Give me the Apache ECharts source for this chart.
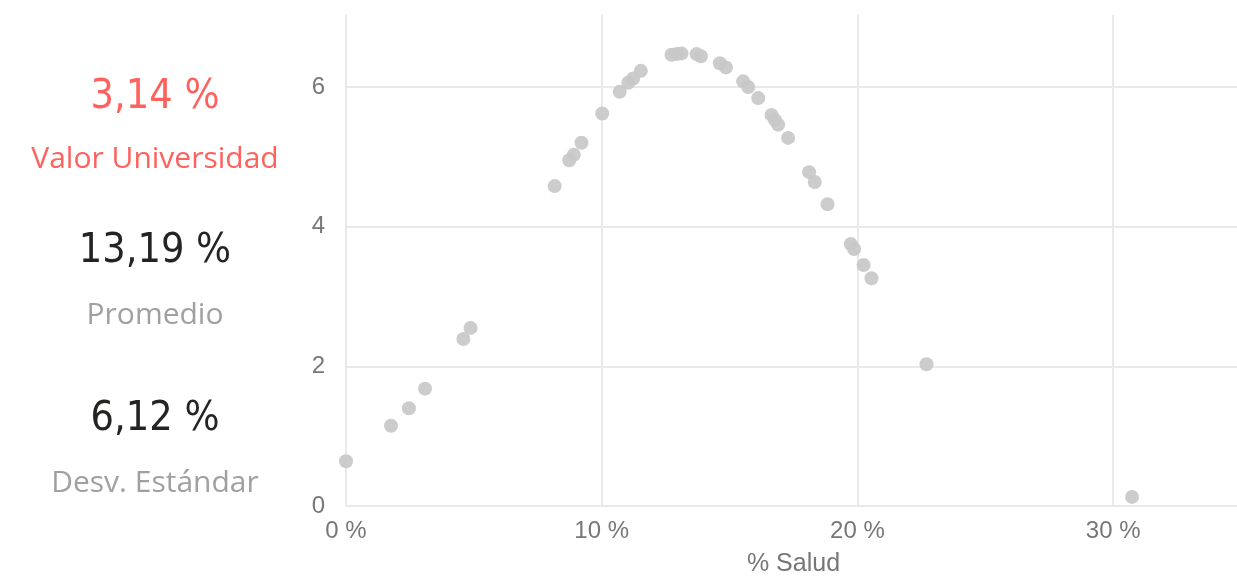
<!DOCTYPE html>
<html>
<head>
<meta charset="utf-8">
<script src="https://cdn.jsdelivr.net/npm/echarts@6/dist/echarts.min.js"></script>
<style>
html,body{margin:0;padding:0;background:#fff;overflow:hidden;}
#c{width:1237px;height:578px;}
</style>
</head>
<body>
<div id="c"></div>
<script>
// Data
const xValues = [0.0, 1.76, 2.46, 3.09, 4.59, 4.87, 8.16, 8.73, 8.91, 9.21, 10.02, 10.70, 11.04, 11.23, 11.53,
  12.73, 12.93, 13.12, 13.71, 13.88, 14.62, 14.86, 15.53, 15.73, 16.12, 16.64, 16.77, 16.90, 17.29,
  18.11, 18.33, 18.83, 19.74, 19.87, 20.24, 20.55, 22.70, 30.74];
const yValues = [0.64, 1.15, 1.40, 1.68, 2.39, 2.55, 4.58, 4.95, 5.03, 5.20, 5.62, 5.93, 6.06, 6.12, 6.23,
  6.46, 6.47, 6.48, 6.47, 6.44, 6.34, 6.28, 6.08, 6.00, 5.84, 5.60, 5.53, 5.46, 5.27,
  4.78, 4.64, 4.32, 3.75, 3.68, 3.45, 3.26, 2.03, 0.13];
const xTicks = [0, 10, 20, 30];
const yTicks = [0, 2, 4, 6];
const statValues = ['3,14 %', '13,19 %', '6,12 %'];
const statLabels = ['Valor Universidad', 'Promedio', 'Desv. Estándar'];
const xAxisName = '% Salud';

const points = xValues.map((x, i) => [x, yValues[i]]);

const statColors = [['#fd625e', '#fd625e'], ['#252423', '#a0a0a0'], ['#252423', '#a0a0a0']];
const statY = [[97, 159], [251, 315], [419, 483]];
const graphics = [];
statValues.forEach((v, i) => {
  graphics.push({type: 'text', x: 155, y: statY[i][0],
    style: {text: v, fill: statColors[i][0], font: '41px "DejaVu Sans Condensed", sans-serif', textAlign: 'center', textVerticalAlign: 'middle'}});
  graphics.push({type: 'text', x: 155, y: statY[i][1],
    style: {text: statLabels[i], fill: statColors[i][1], font: '30px "Open Sans", sans-serif', textAlign: 'center', textVerticalAlign: 'middle'}});
});

const gridLineStyle = {color: '#e9e9e9', width: 2, type: 'solid'};
const gridLines = xTicks.map(v => ({xAxis: v})).concat(yTicks.map(v => ({yAxis: v})));

const chart = echarts.init(document.getElementById('c'), null, {renderer: 'canvas'});
chart.setOption({
  animation: false,
  backgroundColor: '#ffffff',
  grid: {left: 346, top: 15, width: 895, height: 491, containLabel: false, outerBoundsMode: 'none'},
  xAxis: {
    type: 'value', min: 0, max: 35, interval: 10,
    name: xAxisName, nameLocation: 'middle', nameGap: 46,
    nameTextStyle: {color: '#777777', fontSize: 25, fontFamily: '"Liberation Sans", Arial, sans-serif'},
    axisLine: {show: false}, axisTick: {show: false},
    axisLabel: {color: '#777777', fontSize: 24, fontFamily: '"Liberation Sans", Arial, sans-serif', margin: 13,
      formatter: v => xTicks.includes(v) ? v + ' %' : ''},
    splitLine: {show: false}
  },
  yAxis: {
    type: 'value', min: 0, max: 7.03, interval: 2,
    axisLine: {show: false}, axisTick: {show: false},
    axisLabel: {color: '#777777', fontSize: 24, fontFamily: '"Liberation Sans", Arial, sans-serif', margin: 21,
      formatter: v => yTicks.includes(v) ? String(v) : ''},
    splitLine: {show: false}
  },
  series: [{
    type: 'scatter', data: points, symbolSize: 14, z: 3,
    itemStyle: {color: '#c8c8c8', opacity: 0.92},
    markLine: {
      silent: true, symbol: ['none', 'none'], label: {show: false}, z: 1,
      lineStyle: gridLineStyle, emphasis: {disabled: true},
      data: gridLines
    }
  }],
  graphic: graphics
});
</script>
</body>
</html>
